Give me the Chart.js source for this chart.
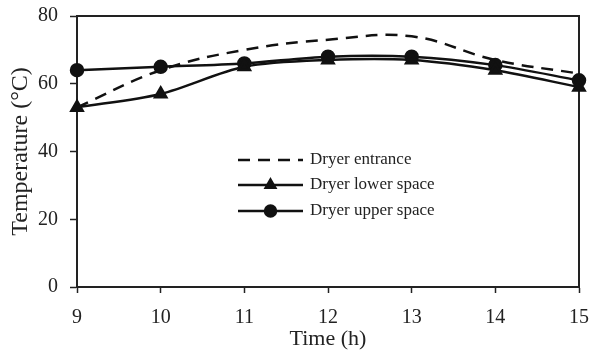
<!DOCTYPE html>
<html>
<head>
<meta charset="utf-8">
<script src="https://cdn.jsdelivr.net/npm/chart.js@4/dist/chart.umd.min.js"></script>
<style>
  body { margin: 0; background: #fff; }
</style>
</head>
<body>
<canvas id="dryer-chart" width="590" height="355"></canvas>
<script>
var hours = [9, 10, 11, 12, 13, 14, 15];
var entranceTemp = [53, 64, 70, 73, 74, 67, 63];
var lowerSpaceTemp = [53, 57, 65, 67, 67, 64, 59];
var upperSpaceTemp = [64, 65, 66, 68, 68, 65.5, 61];
var yTicks = [0, 20, 40, 60, 80];

var ink = '#111';
var serif = "'Liberation Serif', 'Times New Roman', serif";

// legend sits inside the plot, so it is drawn by hand
var innerLegend = {
    id: 'innerLegend',
    afterDatasetsDraw(chart) {
        const ctx = chart.ctx;
        const x0 = 238, x1 = 303, rowY = [160, 185, 211];
        ctx.save();
        chart.data.datasets.forEach((ds, i) => {
            const y = rowY[i];
            ctx.strokeStyle = ink;
            ctx.lineWidth = 2.5;
            ctx.setLineDash(ds.borderDash || []);
            ctx.beginPath();
            ctx.moveTo(x0, y);
            ctx.lineTo(x1, y);
            ctx.stroke();
            ctx.setLineDash([]);
            if (ds.pointRadius > 0) {
                ctx.fillStyle = ink;
                ctx.strokeStyle = ink;
                Chart.helpers.drawPoint(ctx, {
                    pointStyle: ds.pointStyle,
                    radius: 5.5,
                    rotation: 0,
                    borderWidth: 1
                }, (x0 + x1) / 2, y);
            }
            ctx.fillStyle = '#222';
            ctx.font = '17px ' + serif;
            ctx.textBaseline = 'middle';
            ctx.fillText(ds.label, 310, y);
        });
        ctx.restore();
    }
};

// closes the box on the top and right sides
var frame = {
    id: 'frame',
    beforeDatasetsDraw(chart) {
        const a = chart.chartArea;
        const ctx = chart.ctx;
        ctx.save();
        ctx.strokeStyle = '#222';
        ctx.lineWidth = 2;
        ctx.beginPath();
        ctx.moveTo(a.left, a.top);
        ctx.lineTo(a.right, a.top);
        ctx.lineTo(a.right, a.bottom);
        ctx.stroke();
        ctx.restore();
    }
};

var ctx = document.getElementById('dryer-chart').getContext('2d');

new Chart(ctx, {
    type: 'line',
    data: {
        labels: hours,
        datasets: [{
            label: 'Dryer entrance',
            data: entranceTemp,
            borderColor: ink,
            borderWidth: 2.5,
            borderDash: [12, 8],
            pointRadius: 0,
            tension: 0.4,
            fill: false
        }, {
            label: 'Dryer lower space',
            data: lowerSpaceTemp,
            borderColor: ink,
            backgroundColor: ink,
            borderWidth: 2.5,
            pointStyle: 'triangle',
            pointRadius: 6.5,
            tension: 0.3,
            fill: false
        }, {
            label: 'Dryer upper space',
            data: upperSpaceTemp,
            borderColor: ink,
            backgroundColor: ink,
            borderWidth: 2.5,
            pointStyle: 'circle',
            pointRadius: 6,
            tension: 0.3,
            fill: false
        }]
    },
    options: {
        responsive: false,
        animation: false,
        layout: { padding: 0 },
        plugins: {
            legend: { display: false },
            tooltip: { enabled: false }
        },
        scales: {
            x: {
                offset: false,
                grid: { drawOnChartArea: false, drawTicks: true, tickLength: 6, tickColor: '#222', tickWidth: 1.5 },
                border: { color: '#222', width: 2 },
                ticks: { color: '#222', font: { family: serif, size: 20 }, padding: 13, maxRotation: 0 },
                title: { display: true, text: 'Time (h)', color: '#222', font: { family: serif, size: 22 }, padding: { top: 0, bottom: 3 } },
                afterFit(scale) {
                    scale.height = 68;
                    scale.paddingLeft = 0;
                    scale.paddingRight = 11;
                }
            },
            y: {
                min: 0,
                max: 80,
                afterBuildTicks(scale) { scale.ticks = yTicks.map(v => ({ value: v })); },
                grid: { drawOnChartArea: false, drawTicks: true, tickLength: 7, tickColor: '#222', tickWidth: 1.5 },
                border: { color: '#222', width: 2 },
                ticks: { color: '#222', font: { family: serif, size: 20 }, padding: 12 },
                title: { display: true, text: 'Temperature (°C)', color: '#222', font: { family: serif, size: 24 }, padding: { top: 6, bottom: 4 } },
                afterFit(scale) {
                    scale.width = 77;
                    scale.paddingTop = 16;
                    scale.paddingBottom = 0;
                }
            }
        }
    },
    plugins: [frame, innerLegend]
});
</script>
</body>
</html>
